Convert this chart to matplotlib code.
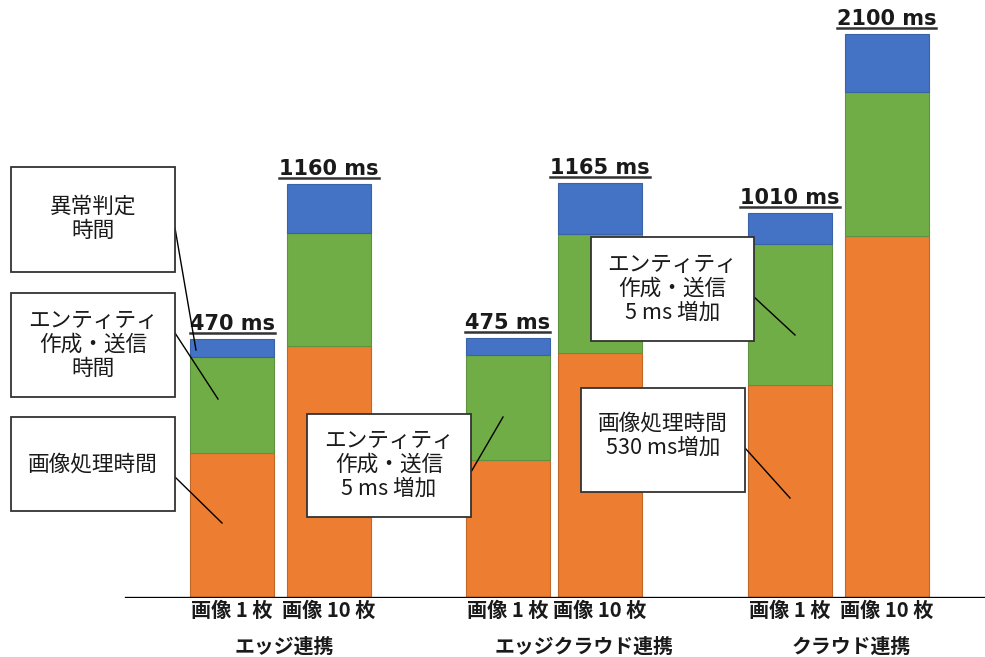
import numpy as np
import matplotlib
matplotlib.use("Agg")
import matplotlib.pyplot as plt
from matplotlib.patches import Rectangle
from matplotlib.lines import Line2D

plt.rcParams['font.family'] = ['Noto Sans CJK JP', 'DejaVu Sans']

# --- data (ms) ---
bar_labels = ["画像 1 枚", "画像 10 枚", "画像 1 枚", "画像 10 枚", "画像 1 枚", "画像 10 枚"]
group_labels = ["エッジ連携", "エッジクラウド連携", "クラウド連携"]
image_proc = [154, 445, 141, 423, 322, 896]      # 画像処理時間
entity_send = [254, 463, 274, 482, 534, 808]     # エンティティ作成・送信時間
judge_time = [62, 252, 60, 260, 154, 396]        # 異常判定時間

callout_texts = [
    "異常判定\n時間",
    "エンティティ\n作成・送信\n時間",
    "画像処理時間",
    "エンティティ\n作成・送信\n5 ms 増加",
    "エンティティ\n作成・送信\n5 ms 増加",
    "画像処理時間\n530 ms増加",
]

# --- layout (pixels) ---
W, H = 985, 657
BASE_Y = 598
bar_x = [232, 329, 507.5, 600, 790, 886.5]
bar_w = 84
group_x = [284, 584, 851]
# callout boxes: (left, top, right, bottom), text centre y
boxes = [(11, 167, 175, 272, 219), (11, 293, 175, 397, 345), (11, 417, 175, 511, 465),
         (307, 414, 471, 517, 465), (591, 237, 754, 341, 289), (581, 388, 745, 492, 436)]
leaders = [((175, 228), (196, 350)), ((175, 333), (218, 399)), ((175, 477), (222, 523)),
           ((471, 472), (503, 417)), ((754, 297), (795, 335)), ((745, 448), (790, 498))]

C_ORANGE, C_GREEN, C_BLUE = "#ED7D31", "#70AD47", "#4472C4"
E_ORANGE, E_GREEN, E_BLUE = "#C0682A", "#5E9140", "#3A62A8"

# compressive power scale keeps short and long bars readable
P = 0.52
def fwd(v):
    v = np.asarray(v, dtype=float)
    return np.sign(v) * np.abs(v) ** P
def inv(t):
    t = np.asarray(t, dtype=float)
    return np.sign(t) * np.abs(t) ** (1.0 / P)

fig = plt.figure(figsize=(W / 100, H / 100), dpi=100)
ax = fig.add_axes([0, (H - BASE_Y) / H, 1, BASE_Y / H])
ax.set_yscale('function', functions=(fwd, inv))
ax.set_xlim(0, W)
ax.set_ylim(0, 2350)
ax.axis('off')

img = np.array(image_proc)
ent = np.array(entity_send)
jud = np.array(judge_time)
totals = img + ent + jud

ax.bar(bar_x, img, width=bar_w, color=C_ORANGE, edgecolor=E_ORANGE, linewidth=0.8, zorder=2)
ax.bar(bar_x, ent, width=bar_w, bottom=img, color=C_GREEN, edgecolor=E_GREEN, linewidth=0.8, zorder=2)
ax.bar(bar_x, jud, width=bar_w, bottom=img + ent, color=C_BLUE, edgecolor=E_BLUE, linewidth=0.8, zorder=2)
ax.axhline(0, xmin=126 / W, xmax=1, color='black', lw=2.4, zorder=3)

value_texts = []
for x, t in zip(bar_x, totals):
    tx = ax.annotate(f"{t} ms", xy=(x, t), xytext=(0, 5), textcoords='offset pixels',
                     ha='center', va='bottom', fontsize=15, fontweight='bold',
                     family='DejaVu Sans', color='#1a1a1a', zorder=4)
    value_texts.append(tx)

# overlay in pixel coordinates for labels and callouts
ov = fig.add_axes([0, 0, 1, 1], zorder=5)
ov.set_xlim(0, W)
ov.set_ylim(H, 0)
ov.axis('off')
ov.patch.set_alpha(0)

for x, lab in zip(bar_x, bar_labels):
    ov.text(x, 610, lab, ha='center', va='center', fontsize=14.5, fontweight='bold', color='#1a1a1a')
for x, lab in zip(group_x, group_labels):
    ov.text(x, 646, lab, ha='center', va='center', fontsize=14.3, fontweight='bold', color='#1a1a1a')

for (p0, p1) in leaders:
    ov.add_line(Line2D([p0[0], p1[0]], [p0[1], p1[1]], color='black', lw=1.0, zorder=3))

for (l, t, r, b, cy), txt in zip(boxes, callout_texts):
    ov.add_patch(Rectangle((l, t), r - l, b - t, facecolor='white', edgecolor='#333333',
                           lw=1.3, zorder=4))
    ov.text((l + r) / 2, cy, txt, ha='center', va='center', fontsize=15.6,
            color='#1a1a1a', zorder=5, linespacing=1.12)

# underline the total labels
fig.canvas.draw()
renderer = fig.canvas.get_renderer()
for tx in value_texts:
    bb = tx.get_window_extent(renderer)
    y = bb.y0 + 1
    fig.add_artist(Line2D([bb.x0 / W, bb.x1 / W], [y / H, y / H], transform=fig.transFigure,
                          color='#333333', lw=1.8))

fig.savefig("out.png", dpi=100)
